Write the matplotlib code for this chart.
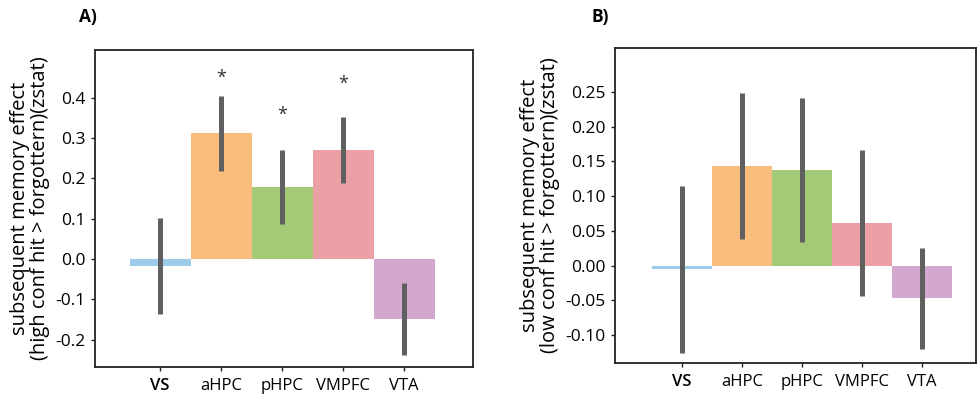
import matplotlib.pyplot as plt
import numpy as np

plt.rcParams['font.family'] = ['Open Sans', 'DejaVu Sans']

regions = ['VS', 'aHPC', 'pHPC', 'VMPFC', 'VTA']
colors = ['#9dcbea', '#f9bd7d', '#a3ca77', '#eba0a5', '#d2a8ce']

# panel A: high confidence hits > forgotten
high_mean = [-0.018, 0.313, 0.178, 0.271, -0.150]
high_lo = [-0.137, 0.219, 0.086, 0.190, -0.238]
high_hi = [0.102, 0.405, 0.270, 0.353, -0.060]
high_star = [None, 0.449, 0.357, 0.434, None]

# panel B: low confidence hits > forgotten
low_mean = [-0.005, 0.143, 0.138, 0.062, -0.047]
low_lo = [-0.125, 0.039, 0.034, -0.044, -0.120]
low_hi = [0.114, 0.248, 0.241, 0.167, 0.026]

fig = plt.figure(figsize=(9.77, 3.98), dpi=100)
axA = fig.add_axes([95/977, 1-367/398, 378/977, 317/398])
axB = fig.add_axes([615/977, 1-363/398, 361/977, 315/398])


def draw(ax, mean, lo, hi, ylabel, ylim, xlim, yticks, fmt):
    x = np.arange(len(regions))
    ax.bar(x, mean, width=1.0, color=colors, linewidth=0)
    ax.vlines(x, lo, hi, color='#606060', linewidth=3.6)
    ax.set_xlim(*xlim)
    ax.set_ylim(*ylim)
    ax.set_xticks(x)
    ax.set_xticklabels(regions)
    ax.set_yticks(yticks)
    ax.set_yticklabels([fmt.format(v) for v in yticks])
    ax.tick_params(labelsize=12.5, length=3, width=1, color='#222222')
    ax.tick_params(axis='x', labelsize=12, pad=5)
    ax.get_xticklabels()[0].set_fontweight('semibold')
    for s in ax.spines.values():
        s.set_linewidth(1.3)
        s.set_color('#222222')
    ax.set_ylabel(ylabel, fontsize=14.5, labelpad=4, linespacing=1.0)


draw(axA, high_mean, high_lo, high_hi,
     'subsequent memory effect\n(high conf hit > forgottern)(zstat)',
     (-0.268, 0.519), (-1.07, 5.13), [-0.2, -0.1, 0.0, 0.1, 0.2, 0.3, 0.4], '{:.1f}')
for i, s in enumerate(high_star):
    if s is not None:
        axA.text(i, s, '*', ha='center', va='center', fontsize=13, color='#333333')

draw(axB, low_mean, low_lo, low_hi,
     'subsequent memory effect\n(low conf hit > forgottern)(zstat)',
     (-0.140, 0.313), (-1.12, 4.9), [-0.10, -0.05, 0.0, 0.05, 0.10, 0.15, 0.20, 0.25], '{:.2f}')

fig.text(88/977, 1-17/398, 'A)', fontsize=12.5, fontweight='bold', ha='center', va='center')
fig.text(600/977, 1-17/398, 'B)', fontsize=12.5, fontweight='bold', ha='center', va='center')

fig.savefig('out.png', dpi=100)
